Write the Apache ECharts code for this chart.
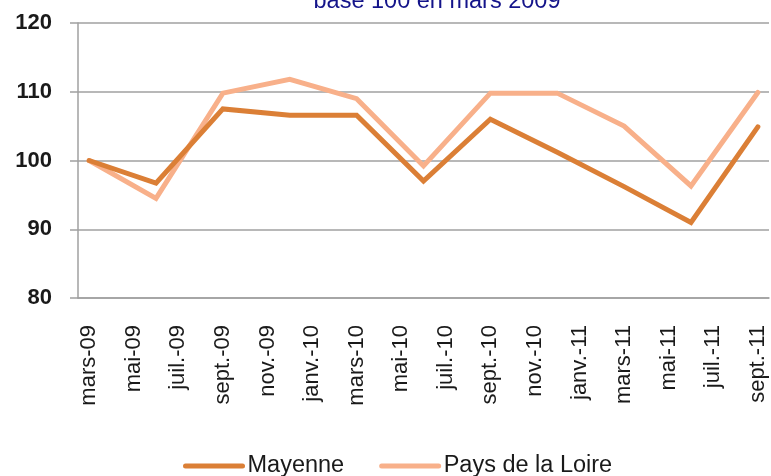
<!DOCTYPE html>
<html>
<head>
<meta charset="utf-8">
<script src="https://cdn.jsdelivr.net/npm/echarts@6/dist/echarts.min.js"></script>
<style>
  html, body { margin: 0; padding: 0; background: #fff; }
  #chart { width: 771px; height: 476px; }
</style>
</head>
<body>
<div id="chart"></div>
<script>
// axe des mois (un label sur deux affiché)
const months = [
    'mars-09', 'avr.-09', 'mai-09', 'juin-09', 'juil.-09', 'août-09', 'sept.-09', 'oct.-09', 'nov.-09', 'déc.-09',
    'janv.-10', 'févr.-10', 'mars-10', 'avr.-10', 'mai-10', 'juin-10', 'juil.-10', 'août-10', 'sept.-10', 'oct.-10',
    'nov.-10', 'déc.-10', 'janv.-11', 'févr.-11', 'mars-11', 'avr.-11', 'mai-11', 'juin-11', 'juil.-11', 'août-11',
    'sept.-11'
];

// points trimestriels
const quarters = ['mars-09', 'juin-09', 'sept.-09', 'déc.-09', 'mars-10', 'juin-10', 'sept.-10', 'déc.-10', 'mars-11', 'juin-11', 'sept.-11'];
const mayenne = [100, 96.7, 107.5, 106.6, 106.6, 97.0, 106.0, 101.2, 96.2, 91.0, 104.9];
const paysDeLaLoire = [100, 94.5, 109.8, 111.8, 109.0, 99.2, 109.8, 109.8, 105.0, 96.3, 109.9];

const yTicks = [80, 90, 100, 110, 120];

const chart = echarts.init(document.getElementById('chart'), null, { renderer: 'canvas' });

const gridColor = '#a0a0a0';
const font = '"Liberation Sans", Arial, sans-serif';

chart.setOption({
    animation: false,
    backgroundColor: '#fff',
    title: {
        text: 'base 100 en mars 2009',
        left: 432,
        textAlign: 'center',
        top: -15,
        textStyle: { color: '#14148a', fontFamily: font, fontSize: 23.5, fontWeight: 'normal' }
    },
    grid: { left: 78, right: 2, top: 23, bottom: 178, outerBoundsMode: 'none', containLabel: false },
    legend: {
        left: 183,
        top: 454,
        itemWidth: 57,
        itemHeight: 24,
        itemGap: 35,
        padding: 0,
        itemStyle: { opacity: 0 },
        lineStyle: { width: 5, cap: 'round' },
        textStyle: { color: '#1a1a1a', fontFamily: font, fontSize: 23.5 },
        data: ['Mayenne', 'Pays de la Loire']
    },
    xAxis: {
        type: 'category',
        data: months,
        boundaryGap: true,
        axisLine: { lineStyle: { color: gridColor, width: 1.5 } },
        axisTick: { interval: 1, length: 8, lineStyle: { color: gridColor, width: 1.5 } },
        axisLabel: {
            interval: 1,
            rotate: 90,
            margin: 27,
            color: '#1a1a1a',
            fontFamily: font,
            fontSize: 22
        },
        splitLine: { show: false }
    },
    yAxis: {
        type: 'value',
        min: yTicks[0],
        max: yTicks[yTicks.length - 1],
        interval: 10,
        axisLine: { show: true, lineStyle: { color: gridColor, width: 1.5 } },
        axisTick: { show: true, length: 8, lineStyle: { color: gridColor, width: 1.5 } },
        axisLabel: {
            margin: 26,
            color: '#1a1a1a',
            fontFamily: font,
            fontSize: 22,
            fontWeight: 'bold'
        },
        splitLine: { lineStyle: { color: gridColor, width: 1.5 } }
    },
    series: [
        {
            name: 'Mayenne',
            type: 'line',
            symbol: 'none',
            connectNulls: true,
            z: 3,
            itemStyle: { color: '#db7f36' },
            lineStyle: { color: '#db7f36', width: 5, join: 'miter', cap: 'round' },
            data: quarters.map((q, i) => [q, mayenne[i]])
        },
        {
            name: 'Pays de la Loire',
            type: 'line',
            symbol: 'none',
            connectNulls: true,
            z: 2,
            itemStyle: { color: '#f8b08a' },
            lineStyle: { color: '#f8b08a', width: 5, join: 'miter', cap: 'round' },
            data: quarters.map((q, i) => [q, paysDeLaLoire[i]])
        }
    ]
});
</script>
</body>
</html>
